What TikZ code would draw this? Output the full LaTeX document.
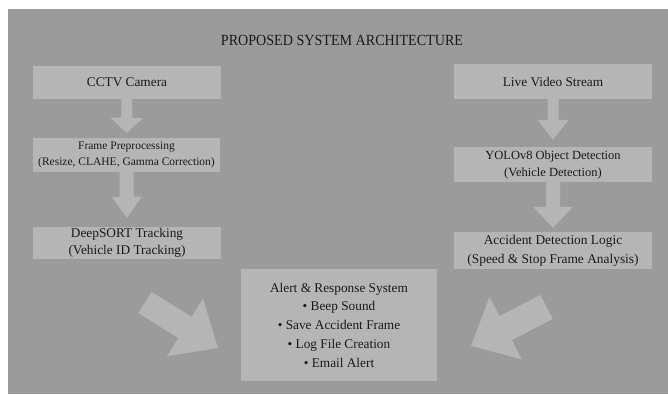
\documentclass[tikz,border=0pt]{standalone}
\usepackage{fontspec}
\setmainfont{Liberation Serif}
\newfontfamily\titlefont{Liberation Serif}[FakeStretch=0.91]
\usetikzlibrary{calc}
\definecolor{bg}{HTML}{9B9B9B}
\definecolor{boxc}{HTML}{B5B5B5}
\definecolor{txt}{HTML}{1A1A1A}

% tail, tip, shaft half width, head half width, head length
\newcommand{\blockarrow}[5]{%
	\coordinate (ah) at ($(#2)!#5!(#1)$);
	\fill [boxc] ($(#1)!#3!90:(#2)$) -- ($(ah)!#3!90:(#2)$) -- ($(ah)!#4!90:(#2)$) -- (#2)
		-- ($(ah)!#4!-90:(#2)$) -- ($(ah)!#3!-90:(#2)$) -- ($(#1)!#3!-90:(#2)$) -- cycle;}

\begin{document}
\begin{tikzpicture}[x=1pt, y=-1pt,
		box/.style={fill=boxc, text=txt, inner sep=0pt, align=center,
			font=\fontsize{13.3}{17}\selectfont}]
	\useasboundingbox (0, 0) rectangle (668, 394);
	\fill [bg] (8, 9) rectangle (668, 394);

	\node [text=txt, font=\titlefont\fontsize{15.5}{18}\selectfont] (title) at (342, 40.3) {PROPOSED SYSTEM ARCHITECTURE};

	% left column
	\node [box, minimum width=188pt, minimum height=33pt] (cctv) at (127, 82.5) {CCTV Camera};
	\node [box, minimum width=187pt, minimum height=34pt, font=\fontsize{11.5}{16}\selectfont] (frame) at (126.5, 155)
		{Frame Preprocessing\\(Resize, CLAHE, Gamma Correction)};
	\node [box, minimum width=188pt, minimum height=32pt] (deep) at (127, 243)
		{DeepSORT Tracking\\(Vehicle ID Tracking)};

	% right column
	\node [box, minimum width=198pt, minimum height=35pt] (live) at (553, 81.5) {Live Video Stream};
	\node [box, minimum width=198pt, minimum height=35pt, font=\fontsize{12.5}{17}\selectfont] (yolo) at (553, 164.5)
		{YOLOv8 Object Detection\\(Vehicle Detection)};
	\node [box, minimum width=198pt, minimum height=37pt, font=\fontsize{13.4}{19}\selectfont] (logic) at (553, 250.5)
		{Accident Detection Logic\\(Speed \& Stop Frame Analysis)};

	% alert box
	\node [box, minimum width=196pt, minimum height=112pt, font=\fontsize{13.3}{18.75}\selectfont] (alert) at (339, 325)
		{Alert \& Response System\\• Beep Sound\\• Save Accident Frame\\• Log File Creation\\• Email Alert};

	% arrows
	\coordinate (t1) at ($(frame.north)+(0, -5)$);
	\coordinate (t2) at ($(deep.north)+(0, -9)$);
	\coordinate (t3) at ($(yolo.north)+(0, -7)$);
	\coordinate (t4) at ($(logic.north)+(0, -4)$);
	\blockarrow{cctv.south}{t1}{5.5pt}{16.5pt}{15pt}
	\blockarrow{frame.south}{t2}{7pt}{15pt}{21pt}
	\blockarrow{live.south}{t3}{5.5pt}{15.5pt}{20pt}
	\blockarrow{yolo.south}{t4}{7pt}{20pt}{21pt}

	\coordinate (ltail) at (145, 302.5);
	\coordinate (ltip) at (218, 348);
	\coordinate (rtail) at (546.5, 307);
	\coordinate (rtip) at (471, 346);
	\blockarrow{ltail}{ltip}{12.5pt}{34pt}{39pt}
	\blockarrow{rtail}{rtip}{13.5pt}{35pt}{39pt}
\end{tikzpicture}
\end{document}
